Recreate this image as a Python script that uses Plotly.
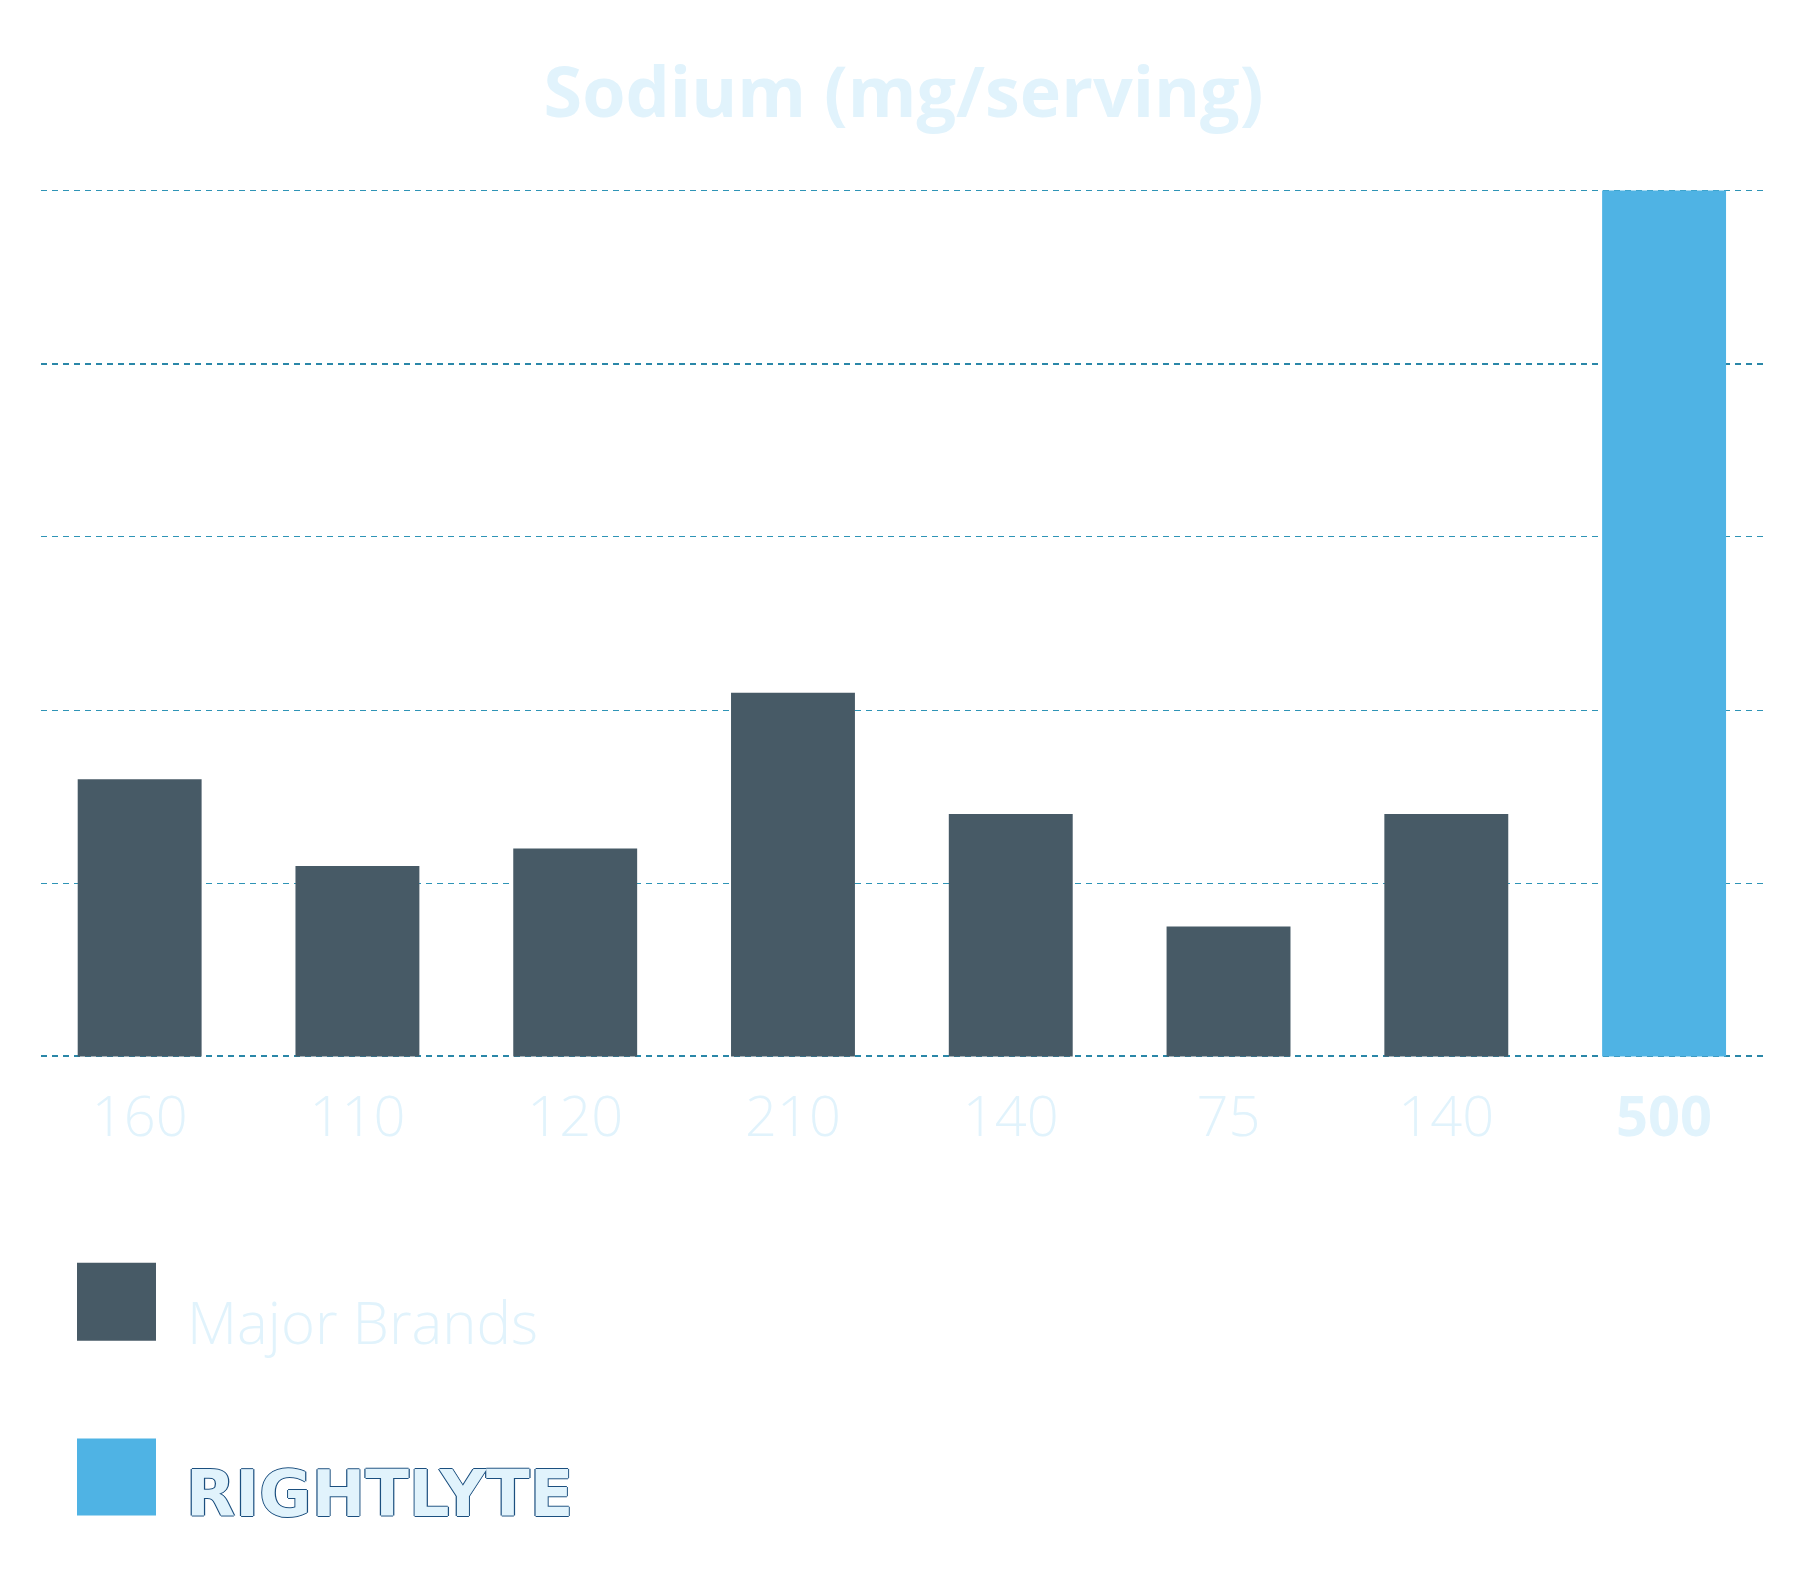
import plotly.graph_objects as go

# ---------------- data ----------------
sodium = [160, 110, 120, 210, 140, 75, 140, 500]
group = ["Major Brands"] * 7 + ["RightLyte"]
tick_labels = ["160", "110", "120", "210", "140", "75", "140", "<b>500</b>"]
legend_names = ["Major Brands", "RIGHTLYTE"]

# ---------------- style ----------------
OFF = 8                      # page body margin of the html page
Y_TOP, Y_ZERO = 190.7, 1056.7   # page pixels of 500 and 0
PAD = 1.5                    # y units of padding so edge gridlines are kept
px_per_unit = (Y_ZERO - Y_TOP) / 500
W, H = 1797 - OFF, 1572 - OFF
ML, MR = 41 - OFF, 31
MT = Y_TOP - PAD * px_per_unit - OFF
MB = 1572 - (Y_ZERO + PAD * px_per_unit)
DARK = "#475A66"
BLUE = "#4FB3E4"
PALE = "#E1F3FC"
GRID = "#2E94B6"
GRID_DARK = "#2A87A8"
FONT = "Open Sans"
colors = {"Major Brands": DARK, "RightLyte": BLUE}

plot_w = W - ML - MR
plot_h = H - MT - MB


# page pixel -> paper coordinates
def px_x(x):
    return (x - OFF - ML) / plot_w


def px_y(y):
    return (H - MB - (y - OFF)) / plot_h


fig = go.Figure()
fig.add_trace(go.Bar(
    x=list(range(len(sodium))),
    y=sodium,
    marker=dict(color=[colors[g] for g in group], line=dict(width=0)),
    hoverinfo="y",
    showlegend=False,
))

fig.update_layout(
    width=W, height=H,
    margin=dict(l=ML, r=MR, t=MT, b=MB, pad=0),
    plot_bgcolor="white", paper_bgcolor="white",
    bargap=0.431,
    title=dict(
        text="<b>Sodium (mg/serving)</b>",
        x=0.5, xref="paper", y=1 - (92 - OFF) / H, yref="container",
        xanchor="center", yanchor="middle",
        font=dict(family=FONT, size=70, color=PALE),
    ),
    xaxis=dict(
        range=[-0.453, 7.468],
        tickmode="array",
        tickvals=list(range(len(sodium))),
        ticktext=tick_labels,
        tickfont=dict(family=FONT, size=56, color=PALE, weight=300),
        showgrid=False, zeroline=False, showline=False, ticks="",
        ticklabelstandoff=20,
    ),
    yaxis=dict(
        range=[-PAD, 500 + PAD],
        tickmode="array",
        tickvals=[0, 400],
        showticklabels=False,
        showgrid=True, gridcolor=GRID_DARK, gridwidth=2, griddash="6px,5px",
        zeroline=False, showline=False,
        minor=dict(tick0=0, dtick=100, showgrid=True, gridcolor=GRID,
                   gridwidth=1, griddash="6px,5px", ticks=""),
    ),
)

# legend swatches + labels
swatch_rows = [(1263, 1341, DARK), (1439, 1516, BLUE)]
for y0, y1, c in swatch_rows:
    fig.add_shape(type="rect", xref="paper", yref="paper",
                  x0=px_x(77), x1=px_x(156), y0=px_y(y1), y1=px_y(y0),
                  fillcolor=c, line=dict(width=0))

fig.add_annotation(
    text=legend_names[0], xref="paper", yref="paper",
    x=px_x(185), y=px_y(1322), xanchor="left", yanchor="middle",
    showarrow=False,
    font=dict(family=FONT, size=58, color=PALE, weight=300),
)
outline = "#1B4F7F"
fig.add_annotation(
    text="<b>" + legend_names[1] + "</b>", xref="paper", yref="paper",
    x=px_x(184), y=px_y(1494), xanchor="left", yanchor="middle",
    showarrow=False,
    font=dict(family="DejaVu Sans", size=64, color=PALE,
              shadow=("1.2px 0 0 %s, -1.2px 0 0 %s, 0 1.2px 0 %s, 0 -1.2px 0 %s"
                      % (outline, outline, outline, outline))),
)

fig.write_html("out.html")
